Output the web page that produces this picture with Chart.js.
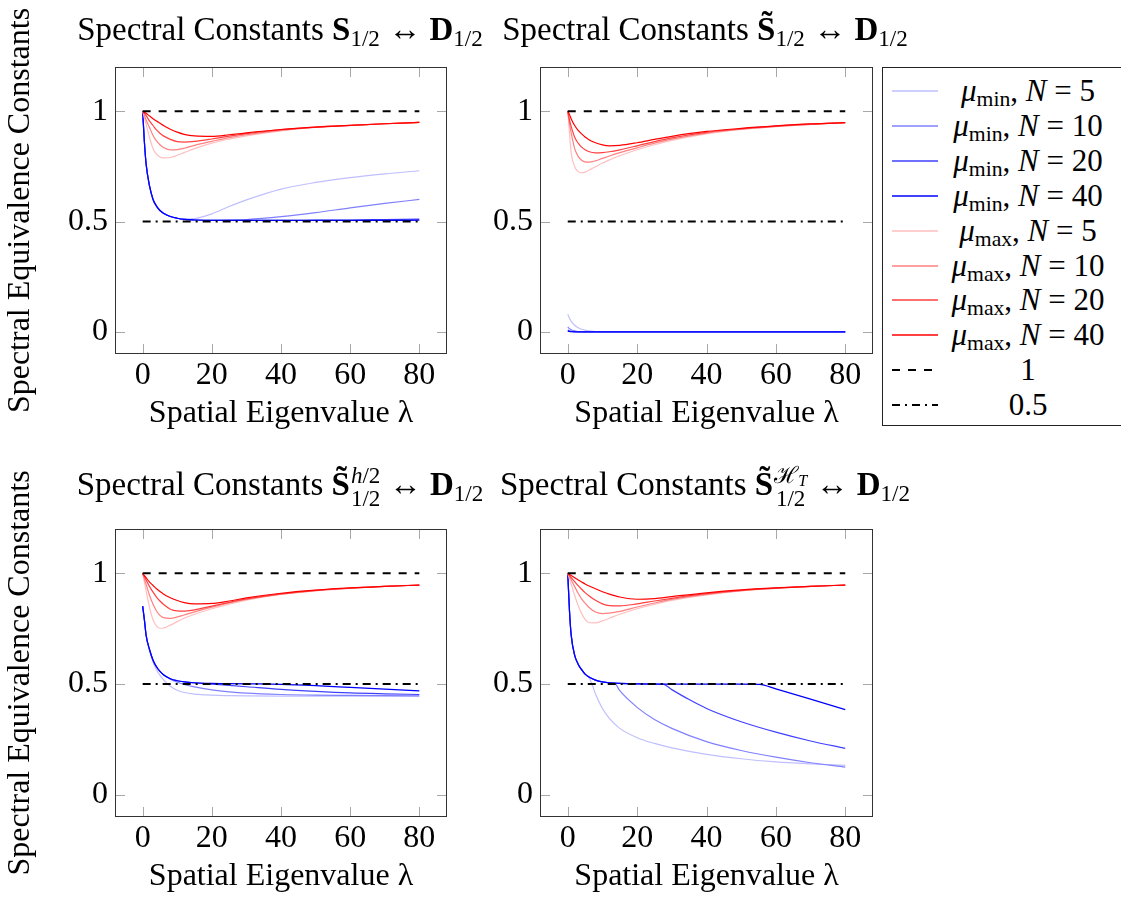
<!DOCTYPE html>
<html>
<head>
<meta charset="utf-8">
<script src="https://cdn.jsdelivr.net/npm/chart.js@4.4.0/dist/chart.umd.min.js"></script>
<style>
    body { margin: 0; background: #fff; width: 1121px; height: 899px; overflow: hidden; position: relative; font-family: 'Liberation Serif', 'Times New Roman', serif; color: #000; }
    canvas { position: absolute; }
    .title { position: absolute; width: 560px; text-align: center; font-size: 33px; line-height: 1; white-space: nowrap; }
    .title sub { font-size: 0.7em; vertical-align: -0.28em; line-height: 0; }
    .ss { display: inline-flex; flex-direction: column; font-size: 0.7em; line-height: 1; vertical-align: 12px; margin-left: 1px; }
    #legend { position: absolute; left: 882px; top: 67px; width: 260px; height: 359px; border: 1px solid #222; box-sizing: border-box; }
    .row { position: absolute; left: 0; width: 240px; height: 35px; }
    .row svg { position: absolute; left: 9px; top: 0; }
    .row .lab { position: absolute; left: 60px; width: 170px; text-align: center; font-size: 31px; line-height: 35px; white-space: nowrap; }
    .lab sub { font-size: 0.7em; vertical-align: -0.25em; line-height: 0; }
</style>
</head>
<body>

<canvas id="c1" width="460" height="434" style="left:0;top:0"></canvas>
<canvas id="c2" width="420" height="434" style="left:460px;top:0"></canvas>
<canvas id="c3" width="460" height="457" style="left:0;top:440px"></canvas>
<canvas id="c4" width="420" height="457" style="left:460px;top:440px"></canvas>

<div class="title" style="left:0;top:13px">Spectral Constants <b>S</b><sub>1/2</sub> ↔ <b>D</b><sub>1/2</sub></div>
<div class="title" style="left:425px;top:13px">Spectral Constants <b>S̃</b><sub>1/2</sub> ↔ <b>D</b><sub>1/2</sub></div>
<div class="title" style="left:0;top:464px">Spectral Constants <b>S̃</b><span class="ss"><span><i>h</i>/2</span><span>1/2</span></span> ↔ <b>D</b><sub>1/2</sub></div>
<div class="title" style="left:425px;top:464px">Spectral Constants <b>S̃</b><span class="ss"><span>ℋ<sub style="font-size:0.7em;vertical-align:-0.2em;line-height:0"><i>T</i></sub></span><span>1/2</span></span> ↔ <b>D</b><sub>1/2</sub></div>

<div id="legend"></div>

<script>
// ---- Axis ticks ----
const xTicks = [0, 20, 40, 60, 80];
const yTicks = [0, 0.5, 1];

// ---- Spatial eigenvalues (shared grid) ----
const lam = [0, 0.5, 1, 2, 3, 4, 5, 6, 8, 10, 12, 15, 20, 25, 30, 40, 50, 60, 70, 80];

// ---- Reference lines ----
const refLam = [0, 80];
const refOne = [1, 1];
const refHalf = [0.5, 0.5];

// ---- S_{1/2} <-> D_{1/2} ----
const sdMin5  = [1, 0.86, 0.76, 0.66, 0.6, 0.57, 0.55, 0.538, 0.523, 0.515, 0.511, 0.513, 0.535, 0.568, 0.598, 0.647, 0.677, 0.699, 0.716, 0.73];
const sdMin10 = [1, 0.86, 0.76, 0.66, 0.6, 0.57, 0.55, 0.538, 0.523, 0.515, 0.51, 0.507, 0.505, 0.506, 0.509, 0.522, 0.54, 0.562, 0.582, 0.6];
const sdMin20 = [1, 0.86, 0.76, 0.66, 0.6, 0.57, 0.55, 0.538, 0.523, 0.515, 0.51, 0.507, 0.505, 0.505, 0.505, 0.505, 0.506, 0.507, 0.509, 0.511];
const sdMin40 = [1, 0.86, 0.76, 0.66, 0.6, 0.57, 0.55, 0.538, 0.523, 0.515, 0.51, 0.507, 0.505, 0.505, 0.505, 0.505, 0.505, 0.505, 0.505, 0.506];
const sdMax5  = [1, 0.97, 0.94, 0.88, 0.83, 0.805, 0.792, 0.788, 0.79, 0.8, 0.812, 0.83, 0.855, 0.873, 0.888, 0.911, 0.926, 0.935, 0.943, 0.949];
const sdMax10 = [1, 0.98, 0.96, 0.925, 0.89, 0.865, 0.848, 0.835, 0.825, 0.826, 0.832, 0.845, 0.863, 0.88, 0.893, 0.913, 0.927, 0.935, 0.943, 0.949];
const sdMax20 = [1, 0.99, 0.98, 0.955, 0.935, 0.915, 0.9, 0.888, 0.872, 0.862, 0.86, 0.863, 0.874, 0.887, 0.898, 0.916, 0.928, 0.936, 0.943, 0.949];
const sdMax40 = [1, 0.995, 0.99, 0.978, 0.966, 0.955, 0.945, 0.935, 0.918, 0.905, 0.895, 0.888, 0.886, 0.893, 0.902, 0.917, 0.928, 0.936, 0.943, 0.949];

// ---- S~_{1/2} <-> D_{1/2} ----
const stMin5  = [0.08, 0.062, 0.048, 0.03, 0.019, 0.012, 0.008, 0.005, 0.002, 0.001, 0.0005, 0, 0, 0, 0, 0, 0, 0, 0, 0];
const stMin10 = [0.022, 0.015, 0.01, 0.005, 0.002, 0.001, 0, 0, 0, 0, 0, 0, 0, 0, 0, 0, 0, 0, 0, 0];
const stMin20 = [0.008, 0.005, 0.003, 0.001, 0, 0, 0, 0, 0, 0, 0, 0, 0, 0, 0, 0, 0, 0, 0, 0];
const stMin40 = [0.003, 0.002, 0.001, 0, 0, 0, 0, 0, 0, 0, 0, 0, 0, 0, 0, 0, 0, 0, 0, 0];
const stMax5  = [1, 0.9, 0.81, 0.748, 0.726, 0.721, 0.724, 0.732, 0.748, 0.765, 0.779, 0.798, 0.825, 0.848, 0.868, 0.897, 0.917, 0.93, 0.94, 0.948];
const stMax10 = [1, 0.945, 0.9, 0.83, 0.795, 0.778, 0.77, 0.769, 0.775, 0.786, 0.797, 0.812, 0.834, 0.855, 0.873, 0.9, 0.918, 0.931, 0.94, 0.948];
const stMax20 = [1, 0.96, 0.93, 0.882, 0.855, 0.837, 0.825, 0.817, 0.811, 0.812, 0.816, 0.825, 0.843, 0.862, 0.879, 0.904, 0.92, 0.932, 0.941, 0.948];
const stMax40 = [1, 0.985, 0.965, 0.935, 0.913, 0.897, 0.883, 0.872, 0.857, 0.847, 0.843, 0.845, 0.857, 0.872, 0.886, 0.908, 0.922, 0.933, 0.942, 0.948];

// ---- S~^{h/2}_{1/2} <-> D_{1/2} ----
const shMin5  = [0.852, 0.79, 0.72, 0.65, 0.6, 0.565, 0.54, 0.52, 0.49, 0.472, 0.462, 0.455, 0.45, 0.448, 0.447, 0.446, 0.446, 0.446, 0.446, 0.446];
const shMin10 = [0.852, 0.79, 0.72, 0.655, 0.608, 0.578, 0.557, 0.542, 0.522, 0.508, 0.498, 0.487, 0.474, 0.465, 0.459, 0.453, 0.45, 0.449, 0.448, 0.447];
const shMin20 = [0.852, 0.79, 0.72, 0.655, 0.608, 0.578, 0.557, 0.542, 0.524, 0.515, 0.51, 0.505, 0.5, 0.494, 0.488, 0.476, 0.467, 0.46, 0.456, 0.453];
const shMin40 = [0.852, 0.79, 0.72, 0.655, 0.608, 0.578, 0.557, 0.542, 0.524, 0.515, 0.51, 0.506, 0.503, 0.502, 0.501, 0.499, 0.493, 0.485, 0.477, 0.469];
const shMax5  = [1, 0.96, 0.92, 0.845, 0.79, 0.762, 0.752, 0.753, 0.766, 0.782, 0.797, 0.815, 0.84, 0.861, 0.879, 0.905, 0.921, 0.932, 0.941, 0.947];
const shMax10 = [1, 0.975, 0.95, 0.9, 0.86, 0.83, 0.81, 0.8, 0.797, 0.803, 0.812, 0.826, 0.847, 0.866, 0.882, 0.906, 0.922, 0.933, 0.941, 0.947];
const shMax20 = [1, 0.985, 0.97, 0.94, 0.915, 0.893, 0.875, 0.86, 0.838, 0.83, 0.829, 0.835, 0.852, 0.869, 0.884, 0.907, 0.923, 0.933, 0.941, 0.947];
const shMax40 = [1, 0.99, 0.98, 0.96, 0.945, 0.93, 0.918, 0.907, 0.89, 0.877, 0.868, 0.862, 0.864, 0.875, 0.889, 0.91, 0.924, 0.934, 0.941, 0.947];

// ---- S~^{H_T}_{1/2} <-> D_{1/2} (mu_min curves break off the 0.5 line) ----
const htLam5  = [0, 0.5, 1, 2, 3, 4, 5, 6, 7, 8, 10, 12, 15, 20, 25, 30, 40, 50, 60, 70, 80];
const htMin5  = [1, 0.83, 0.72, 0.63, 0.59, 0.565, 0.545, 0.532, 0.5, 0.455, 0.39, 0.345, 0.3, 0.258, 0.232, 0.212, 0.183, 0.163, 0.149, 0.14, 0.133];
const htLam10 = [0, 0.5, 1, 2, 3, 4, 5, 6, 8, 10, 12, 13.5, 15, 20, 25, 30, 40, 50, 60, 70, 80];
const htMin10 = [1, 0.83, 0.72, 0.63, 0.59, 0.565, 0.545, 0.533, 0.518, 0.51, 0.506, 0.504, 0.47, 0.395, 0.34, 0.3, 0.24, 0.2, 0.17, 0.145, 0.125];
const htLam20 = [0, 0.5, 1, 2, 3, 4, 5, 6, 8, 10, 12, 15, 20, 27.4, 30, 35, 40, 50, 60, 70, 80];
const htMin20 = [1, 0.83, 0.72, 0.63, 0.59, 0.565, 0.545, 0.533, 0.518, 0.51, 0.506, 0.503, 0.501, 0.5, 0.475, 0.43, 0.39, 0.33, 0.283, 0.243, 0.21];
const htLam40 = [0, 0.5, 1, 2, 3, 4, 5, 6, 8, 10, 12, 15, 20, 30, 40, 50, 55.3, 60, 70, 80];
const htMin40 = [1, 0.83, 0.72, 0.63, 0.59, 0.565, 0.545, 0.533, 0.518, 0.51, 0.506, 0.503, 0.501, 0.5, 0.5, 0.5, 0.499, 0.478, 0.432, 0.385];
const htMax5  = [1, 0.975, 0.95, 0.9, 0.855, 0.818, 0.792, 0.778, 0.776, 0.785, 0.797, 0.815, 0.84, 0.86, 0.878, 0.903, 0.921, 0.932, 0.941, 0.947];
const htMax10 = [1, 0.985, 0.97, 0.94, 0.91, 0.885, 0.865, 0.848, 0.825, 0.818, 0.82, 0.828, 0.848, 0.866, 0.882, 0.905, 0.922, 0.933, 0.941, 0.947];
const htMax20 = [1, 0.99, 0.98, 0.962, 0.944, 0.928, 0.913, 0.9, 0.878, 0.862, 0.854, 0.853, 0.862, 0.875, 0.887, 0.908, 0.923, 0.933, 0.941, 0.947];
const htMax40 = [1, 0.995, 0.99, 0.98, 0.97, 0.961, 0.952, 0.944, 0.93, 0.917, 0.906, 0.893, 0.883, 0.886, 0.895, 0.912, 0.925, 0.934, 0.941, 0.947];

// ---- Series styling ----
const nValues = [5, 10, 20, 40];
const blueShades = ['#bfbfff', '#8080ff', '#4040ff', '#0000ff'];
const redShades = ['#ffbfbf', '#ff8080', '#ff4040', '#ff0000'];
const dashOne = [8, 8];
const dashHalf = [8, 5, 2, 5];

const FONT_FAMILY = "'Liberation Serif', 'Times New Roman', Times, serif";
const tickFont = { family: FONT_FAMILY, size: 32 };
const titleFont = { family: FONT_FAMILY, size: 32 };

Chart.defaults.font.family = FONT_FAMILY;
Chart.defaults.font.size = 32;
Chart.defaults.color = '#000';

function pts(xs, ys) {
    return xs.map((x, i) => ({ x: x, y: ys[i] }));
}

function lineSet(data, color, order, dash, width) {
    return {
        data: data,
        borderColor: color,
        borderWidth: width || 1.2,
        borderDash: dash || [],
        pointRadius: 0,
        fill: false,
        cubicInterpolationMode: 'monotone',
        order: order
    };
}

// ---- Inner ticks and frame ----
const framePlugin = {
    id: 'frame',
    beforeDatasetsDraw(chart) {
        const { ctx, chartArea: a, scales } = chart;
        ctx.save();
        ctx.strokeStyle = '#a8a8a8';
        ctx.lineWidth = 1;
        ctx.beginPath();
        xTicks.forEach(v => {
            const px = Math.round(scales.x.getPixelForValue(v)) + 0.5;
            ctx.moveTo(px, a.bottom); ctx.lineTo(px, a.bottom - 10);
            ctx.moveTo(px, a.top); ctx.lineTo(px, a.top + 10);
        });
        yTicks.forEach(v => {
            const py = Math.round(scales.y.getPixelForValue(v)) + 0.5;
            ctx.moveTo(a.left, py); ctx.lineTo(a.left + 10, py);
            ctx.moveTo(a.right, py); ctx.lineTo(a.right - 10, py);
        });
        ctx.stroke();
        ctx.restore();
    },
    afterDatasetsDraw(chart) {
        const { ctx, chartArea: a } = chart;
        ctx.save();
        ctx.strokeStyle = '#333';
        ctx.lineWidth = 1;
        ctx.strokeRect(Math.round(a.left) + 0.5, Math.round(a.top) + 0.5,
            Math.round(a.right - a.left) - 1, Math.round(a.bottom - a.top) - 1);
        ctx.restore();
    }
};

// ---- Build one panel ----
function makePanel(id, cfg) {
    const datasets = [];
    cfg.min.forEach((ys, i) => {
        const xs = cfg.minLam ? cfg.minLam[i] : lam;
        datasets.push(lineSet(pts(xs, ys), blueShades[i], 8 - i));
    });
    cfg.max.forEach((ys, i) => {
        datasets.push(lineSet(pts(lam, ys), redShades[i], 4 - i));
    });
    datasets.push(lineSet(pts(refLam, refOne), '#000', 0, dashOne, 2));
    datasets.push(lineSet(pts(refLam, refHalf), '#000', 0, dashHalf, 2));

    return new Chart(document.getElementById(id), {
        type: 'line',
        data: { datasets: datasets },
        options: {
            responsive: false,
            animation: false,
            devicePixelRatio: 1,
            layout: { padding: { top: cfg.padTop, right: cfg.padRight, left: 0, bottom: 0 } },
            plugins: { legend: { display: false }, tooltip: { enabled: false } },
            scales: {
                x: {
                    type: 'linear',
                    min: -8,
                    max: 88,
                    afterBuildTicks: s => { s.ticks = xTicks.map(v => ({ value: v })); },
                    afterFit: s => { s.height = 80; },
                    grid: { display: false, drawTicks: false },
                    border: { display: false },
                    ticks: { padding: 2, maxRotation: 0, font: tickFont, color: '#000' },
                    title: { display: true, text: 'Spatial Eigenvalue λ', font: titleFont, color: '#000', padding: { top: 0, bottom: 1 } }
                },
                y: {
                    type: 'linear',
                    min: -0.1,
                    max: 1.2,
                    afterBuildTicks: s => { s.ticks = yTicks.map(v => ({ value: v })); },
                    afterFit: s => { s.width = cfg.yWidth; },
                    grid: { display: false, drawTicks: false },
                    border: { display: false },
                    ticks: { padding: 7, font: tickFont, color: '#000', callback: v => String(v) },
                    title: { display: cfg.yTitle, text: 'Spectral Equivalence Constants', font: titleFont, color: '#000', padding: { top: 1, bottom: 0 } }
                }
            }
        },
        plugins: [framePlugin]
    });
}

function init() {
    makePanel('c1', { min: [sdMin5, sdMin10, sdMin20, sdMin40], max: [sdMax5, sdMax10, sdMax20, sdMax40],
        yTitle: true, yWidth: 115, padTop: 67, padRight: 13 });
    makePanel('c2', { min: [stMin5, stMin10, stMin20, stMin40], max: [stMax5, stMax10, stMax20, stMax40],
        yTitle: false, yWidth: 80, padTop: 67, padRight: 7 });
    makePanel('c3', { min: [shMin5, shMin10, shMin20, shMin40], max: [shMax5, shMax10, shMax20, shMax40],
        yTitle: true, yWidth: 115, padTop: 89, padRight: 13 });
    makePanel('c4', { min: [htMin5, htMin10, htMin20, htMin40], minLam: [htLam5, htLam10, htLam20, htLam40],
        max: [htMax5, htMax10, htMax20, htMax40], yTitle: false, yWidth: 80, padTop: 89, padRight: 7 });
}

// ---- Legend ----
const legendRows = [];
nValues.forEach((n, i) => legendRows.push({ color: blueShades[i], dash: [], width: 1.3, html: '<i>μ</i><sub>min</sub>, <i>N</i> = ' + n }));
nValues.forEach((n, i) => legendRows.push({ color: redShades[i], dash: [], width: 1.3, html: '<i>μ</i><sub>max</sub>, <i>N</i> = ' + n }));
legendRows.push({ color: '#000', dash: dashOne, width: 2, html: '1' });
legendRows.push({ color: '#000', dash: dashHalf, width: 2, html: '0.5' });

const legendBox = document.getElementById('legend');
legendRows.forEach((r, i) => {
    const row = document.createElement('div');
    row.className = 'row';
    row.style.top = Math.round(5 + i * 34.9) + 'px';
    const dashAttr = r.dash.length ? ' stroke-dasharray="' + r.dash.join(' ') + '"' : '';
    row.innerHTML =
        '<svg width="48" height="35"><line x1="0" y1="18" x2="46" y2="18" stroke="' + r.color +
        '" stroke-width="' + r.width + '"' + dashAttr + '/></svg>' +
        '<div class="lab">' + r.html + '</div>';
    legendBox.appendChild(row);
});

if (document.fonts && document.fonts.load) {
    document.fonts.load("32px 'Liberation Serif'").then(init, init);
} else {
    init();
}
</script>
</body>
</html>
